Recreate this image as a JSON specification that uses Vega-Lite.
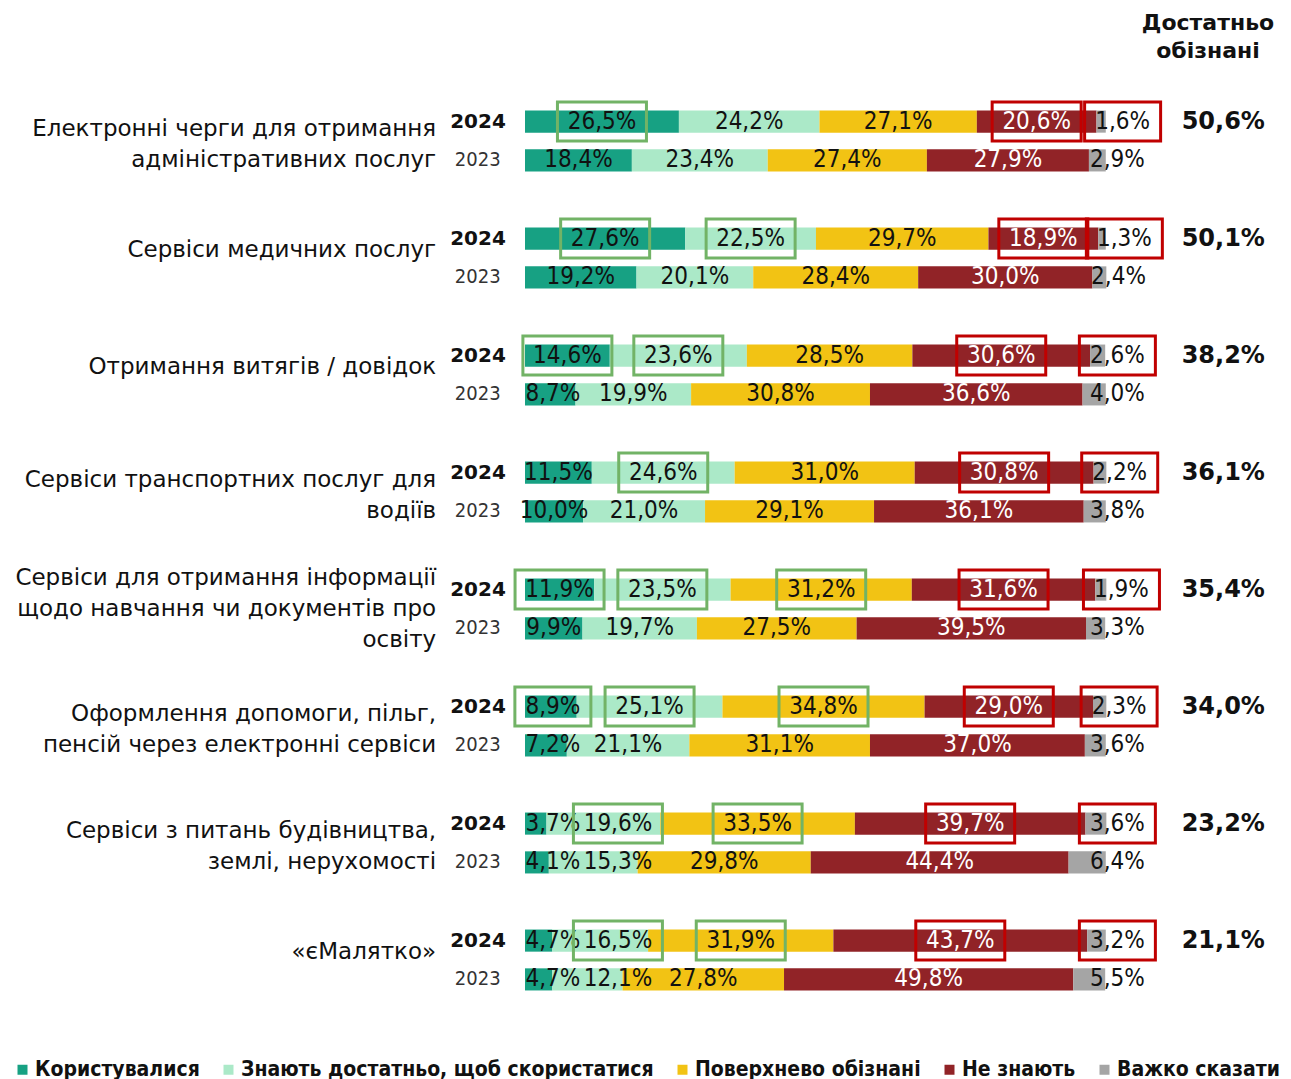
{
  "$schema": "https://vega.github.io/schema/vega-lite/v6.json",
  "background": "white",
  "padding": {"left": 12, "top": 12, "right": 11, "bottom": 5},
  "bounds": "flush",
  "title": {"text": ["Достатньо", "обізнані"], "anchor": "start", "frame": "group", "align": "center", "dx": 683, "fontSize": 22, "fontWeight": "bold", "font": "DejaVu Sans", "lineHeight": 28, "offset": 33, "color": "#111"},
  "data": {"values": [
    {"cat": "Електронні черги для отримання|адміністративних послуг", "year": "2024", "resp": "Користувалися", "value": 26.5, "box": "g", "aware": "50,6%"},
    {"cat": "Електронні черги для отримання|адміністративних послуг", "year": "2024", "resp": "Знають достатньо, щоб скористатися", "value": 24.2},
    {"cat": "Електронні черги для отримання|адміністративних послуг", "year": "2024", "resp": "Поверхнево обізнані", "value": 27.1},
    {"cat": "Електронні черги для отримання|адміністративних послуг", "year": "2024", "resp": "Не знають", "value": 20.6, "box": "r"},
    {"cat": "Електронні черги для отримання|адміністративних послуг", "year": "2024", "resp": "Важко сказати", "value": 1.6, "box": "r"},
    {"cat": "Електронні черги для отримання|адміністративних послуг", "year": "2023", "resp": "Користувалися", "value": 18.4},
    {"cat": "Електронні черги для отримання|адміністративних послуг", "year": "2023", "resp": "Знають достатньо, щоб скористатися", "value": 23.4},
    {"cat": "Електронні черги для отримання|адміністративних послуг", "year": "2023", "resp": "Поверхнево обізнані", "value": 27.4},
    {"cat": "Електронні черги для отримання|адміністративних послуг", "year": "2023", "resp": "Не знають", "value": 27.9},
    {"cat": "Електронні черги для отримання|адміністративних послуг", "year": "2023", "resp": "Важко сказати", "value": 2.9},

    {"cat": "Сервіси медичних послуг", "year": "2024", "resp": "Користувалися", "value": 27.6, "box": "g", "aware": "50,1%"},
    {"cat": "Сервіси медичних послуг", "year": "2024", "resp": "Знають достатньо, щоб скористатися", "value": 22.5, "box": "g"},
    {"cat": "Сервіси медичних послуг", "year": "2024", "resp": "Поверхнево обізнані", "value": 29.7},
    {"cat": "Сервіси медичних послуг", "year": "2024", "resp": "Не знають", "value": 18.9, "box": "r"},
    {"cat": "Сервіси медичних послуг", "year": "2024", "resp": "Важко сказати", "value": 1.3, "box": "r"},
    {"cat": "Сервіси медичних послуг", "year": "2023", "resp": "Користувалися", "value": 19.2},
    {"cat": "Сервіси медичних послуг", "year": "2023", "resp": "Знають достатньо, щоб скористатися", "value": 20.1},
    {"cat": "Сервіси медичних послуг", "year": "2023", "resp": "Поверхнево обізнані", "value": 28.4},
    {"cat": "Сервіси медичних послуг", "year": "2023", "resp": "Не знають", "value": 30.0},
    {"cat": "Сервіси медичних послуг", "year": "2023", "resp": "Важко сказати", "value": 2.4},

    {"cat": "Отримання витягів / довідок", "year": "2024", "resp": "Користувалися", "value": 14.6, "box": "g", "aware": "38,2%"},
    {"cat": "Отримання витягів / довідок", "year": "2024", "resp": "Знають достатньо, щоб скористатися", "value": 23.6, "box": "g"},
    {"cat": "Отримання витягів / довідок", "year": "2024", "resp": "Поверхнево обізнані", "value": 28.5},
    {"cat": "Отримання витягів / довідок", "year": "2024", "resp": "Не знають", "value": 30.6, "box": "r"},
    {"cat": "Отримання витягів / довідок", "year": "2024", "resp": "Важко сказати", "value": 2.6, "box": "r"},
    {"cat": "Отримання витягів / довідок", "year": "2023", "resp": "Користувалися", "value": 8.7},
    {"cat": "Отримання витягів / довідок", "year": "2023", "resp": "Знають достатньо, щоб скористатися", "value": 19.9},
    {"cat": "Отримання витягів / довідок", "year": "2023", "resp": "Поверхнево обізнані", "value": 30.8},
    {"cat": "Отримання витягів / довідок", "year": "2023", "resp": "Не знають", "value": 36.6},
    {"cat": "Отримання витягів / довідок", "year": "2023", "resp": "Важко сказати", "value": 4.0},

    {"cat": "Сервіси транспортних послуг для|водіїв", "year": "2024", "resp": "Користувалися", "value": 11.5, "aware": "36,1%"},
    {"cat": "Сервіси транспортних послуг для|водіїв", "year": "2024", "resp": "Знають достатньо, щоб скористатися", "value": 24.6, "box": "g"},
    {"cat": "Сервіси транспортних послуг для|водіїв", "year": "2024", "resp": "Поверхнево обізнані", "value": 31.0},
    {"cat": "Сервіси транспортних послуг для|водіїв", "year": "2024", "resp": "Не знають", "value": 30.8, "box": "r"},
    {"cat": "Сервіси транспортних послуг для|водіїв", "year": "2024", "resp": "Важко сказати", "value": 2.2, "box": "r"},
    {"cat": "Сервіси транспортних послуг для|водіїв", "year": "2023", "resp": "Користувалися", "value": 10.0},
    {"cat": "Сервіси транспортних послуг для|водіїв", "year": "2023", "resp": "Знають достатньо, щоб скористатися", "value": 21.0},
    {"cat": "Сервіси транспортних послуг для|водіїв", "year": "2023", "resp": "Поверхнево обізнані", "value": 29.1},
    {"cat": "Сервіси транспортних послуг для|водіїв", "year": "2023", "resp": "Не знають", "value": 36.1},
    {"cat": "Сервіси транспортних послуг для|водіїв", "year": "2023", "resp": "Важко сказати", "value": 3.8},

    {"cat": "Сервіси для отримання інформації|щодо навчання чи документів про|освіту", "year": "2024", "resp": "Користувалися", "value": 11.9, "box": "g", "aware": "35,4%"},
    {"cat": "Сервіси для отримання інформації|щодо навчання чи документів про|освіту", "year": "2024", "resp": "Знають достатньо, щоб скористатися", "value": 23.5, "box": "g"},
    {"cat": "Сервіси для отримання інформації|щодо навчання чи документів про|освіту", "year": "2024", "resp": "Поверхнево обізнані", "value": 31.2, "box": "g"},
    {"cat": "Сервіси для отримання інформації|щодо навчання чи документів про|освіту", "year": "2024", "resp": "Не знають", "value": 31.6, "box": "r"},
    {"cat": "Сервіси для отримання інформації|щодо навчання чи документів про|освіту", "year": "2024", "resp": "Важко сказати", "value": 1.9, "box": "r"},
    {"cat": "Сервіси для отримання інформації|щодо навчання чи документів про|освіту", "year": "2023", "resp": "Користувалися", "value": 9.9},
    {"cat": "Сервіси для отримання інформації|щодо навчання чи документів про|освіту", "year": "2023", "resp": "Знають достатньо, щоб скористатися", "value": 19.7},
    {"cat": "Сервіси для отримання інформації|щодо навчання чи документів про|освіту", "year": "2023", "resp": "Поверхнево обізнані", "value": 27.5},
    {"cat": "Сервіси для отримання інформації|щодо навчання чи документів про|освіту", "year": "2023", "resp": "Не знають", "value": 39.5},
    {"cat": "Сервіси для отримання інформації|щодо навчання чи документів про|освіту", "year": "2023", "resp": "Важко сказати", "value": 3.3},

    {"cat": "Оформлення допомоги, пільг,|пенсій через електронні сервіси", "year": "2024", "resp": "Користувалися", "value": 8.9, "box": "g", "aware": "34,0%"},
    {"cat": "Оформлення допомоги, пільг,|пенсій через електронні сервіси", "year": "2024", "resp": "Знають достатньо, щоб скористатися", "value": 25.1, "box": "g"},
    {"cat": "Оформлення допомоги, пільг,|пенсій через електронні сервіси", "year": "2024", "resp": "Поверхнево обізнані", "value": 34.8, "box": "g"},
    {"cat": "Оформлення допомоги, пільг,|пенсій через електронні сервіси", "year": "2024", "resp": "Не знають", "value": 29.0, "box": "r"},
    {"cat": "Оформлення допомоги, пільг,|пенсій через електронні сервіси", "year": "2024", "resp": "Важко сказати", "value": 2.3, "box": "r"},
    {"cat": "Оформлення допомоги, пільг,|пенсій через електронні сервіси", "year": "2023", "resp": "Користувалися", "value": 7.2},
    {"cat": "Оформлення допомоги, пільг,|пенсій через електронні сервіси", "year": "2023", "resp": "Знають достатньо, щоб скористатися", "value": 21.1},
    {"cat": "Оформлення допомоги, пільг,|пенсій через електронні сервіси", "year": "2023", "resp": "Поверхнево обізнані", "value": 31.1},
    {"cat": "Оформлення допомоги, пільг,|пенсій через електронні сервіси", "year": "2023", "resp": "Не знають", "value": 37.0},
    {"cat": "Оформлення допомоги, пільг,|пенсій через електронні сервіси", "year": "2023", "resp": "Важко сказати", "value": 3.6},

    {"cat": "Сервіси з питань будівництва,|землі, нерухомості", "year": "2024", "resp": "Користувалися", "value": 3.7, "aware": "23,2%"},
    {"cat": "Сервіси з питань будівництва,|землі, нерухомості", "year": "2024", "resp": "Знають достатньо, щоб скористатися", "value": 19.6, "box": "g"},
    {"cat": "Сервіси з питань будівництва,|землі, нерухомості", "year": "2024", "resp": "Поверхнево обізнані", "value": 33.5, "box": "g"},
    {"cat": "Сервіси з питань будівництва,|землі, нерухомості", "year": "2024", "resp": "Не знають", "value": 39.7, "box": "r"},
    {"cat": "Сервіси з питань будівництва,|землі, нерухомості", "year": "2024", "resp": "Важко сказати", "value": 3.6, "box": "r"},
    {"cat": "Сервіси з питань будівництва,|землі, нерухомості", "year": "2023", "resp": "Користувалися", "value": 4.1},
    {"cat": "Сервіси з питань будівництва,|землі, нерухомості", "year": "2023", "resp": "Знають достатньо, щоб скористатися", "value": 15.3},
    {"cat": "Сервіси з питань будівництва,|землі, нерухомості", "year": "2023", "resp": "Поверхнево обізнані", "value": 29.8},
    {"cat": "Сервіси з питань будівництва,|землі, нерухомості", "year": "2023", "resp": "Не знають", "value": 44.4},
    {"cat": "Сервіси з питань будівництва,|землі, нерухомості", "year": "2023", "resp": "Важко сказати", "value": 6.4},

    {"cat": "«єМалятко»", "year": "2024", "resp": "Користувалися", "value": 4.7, "aware": "21,1%"},
    {"cat": "«єМалятко»", "year": "2024", "resp": "Знають достатньо, щоб скористатися", "value": 16.5, "box": "g"},
    {"cat": "«єМалятко»", "year": "2024", "resp": "Поверхнево обізнані", "value": 31.9, "box": "g"},
    {"cat": "«єМалятко»", "year": "2024", "resp": "Не знають", "value": 43.7, "box": "r"},
    {"cat": "«єМалятко»", "year": "2024", "resp": "Важко сказати", "value": 3.2, "box": "r"},
    {"cat": "«єМалятко»", "year": "2023", "resp": "Користувалися", "value": 4.7},
    {"cat": "«єМалятко»", "year": "2023", "resp": "Знають достатньо, щоб скористатися", "value": 12.1},
    {"cat": "«єМалятко»", "year": "2023", "resp": "Поверхнево обізнані", "value": 27.8},
    {"cat": "«єМалятко»", "year": "2023", "resp": "Не знають", "value": 49.8},
    {"cat": "«єМалятко»", "year": "2023", "resp": "Важко сказати", "value": 5.5}
  ]},
  "transform": [
    {"calculate": "indexof(['Користувалися','Знають достатньо, щоб скористатися','Поверхнево обізнані','Не знають','Важко сказати'], datum.resp)", "as": "ord"},
    {"stack": "value", "groupby": ["cat", "year"], "sort": [{"field": "ord", "order": "ascending"}], "as": ["x0", "x1"]},
    {"calculate": "(datum.x0 + datum.x1) / 2", "as": "mid"},
    {"calculate": "datum.ord == 4 ? max(datum.x0 + 4.5, 102) : datum.ord == 0 ? max(datum.mid, 4.8) : (datum.ord == 1 && datum.x0 < 8) ? max(datum.mid, 16) : datum.mid", "as": "lx"},
    {"calculate": "replace(format(datum.value, '.1f'), '.', ',') + '%'", "as": "lbl"},
    {"calculate": "split(datum.cat, '|')", "as": "catLines"},
    {"calculate": "length(datum.catLines)", "as": "nLines"}
  ],
  "spacing": 39,
  "facet": {
    "row": {
      "field": "cat", "type": "nominal", "title": null,
      "sort": ["Електронні черги для отримання|адміністративних послуг", "Сервіси медичних послуг", "Отримання витягів / довідок", "Сервіси транспортних послуг для|водіїв", "Сервіси для отримання інформації|щодо навчання чи документів про|освіту", "Оформлення допомоги, пільг,|пенсій через електронні сервіси", "Сервіси з питань будівництва,|землі, нерухомості", "«єМалятко»"],
      "header": {"labels": false}
    }
  },
  "spec": {
    "width": 755,
    "height": 78,
    "layer": [
      {
        "mark": {"type": "bar"},
        "encoding": {
          "x": {"field": "x0", "type": "quantitative", "scale": {"domain": [0, 130], "nice": false, "zero": true}, "axis": null},
          "x2": {"field": "x1"},
          "y": {"field": "year", "type": "nominal", "sort": "descending", "scale": {"paddingInner": 0.43, "paddingOuter": 0.22}, "axis": null},
          "color": {"field": "resp", "type": "nominal",
                    "scale": {"domain": ["Користувалися", "Знають достатньо, щоб скористатися", "Поверхнево обізнані", "Не знають", "Важко сказати"], "range": ["#17a183", "#abe9c8", "#f2c314", "#912327", "#a5a5a5"]},
                    "legend": {"orient": "none", "legendX": -513, "legendY": 957, "padding": 0, "direction": "horizontal", "title": null, "symbolType": "square", "symbolSize": 100, "symbolStrokeWidth": 0, "labelFontSize": 21, "labelFontWeight": "bold", "labelFont": "DejaVu Sans Condensed, DejaVu Sans", "labelColor": "#111", "labelLimit": 600, "labelOffset": 2, "columnPadding": 18}}
        }
      },
      {
        "mark": {"type": "text", "fontSize": 24, "font": "DejaVu Sans Condensed, DejaVu Sans", "align": "center", "baseline": "middle"},
        "encoding": {
          "x": {"field": "lx", "type": "quantitative"},
          "y": {"field": "year", "type": "nominal", "sort": "descending"},
          "text": {"field": "lbl"},
          "color": {"condition": {"test": "datum.ord == 3", "value": "white"}, "value": "#111"}
        }
      },
      {
        "transform": [{"filter": "datum.box == 'g' || datum.box == 'r'"}, {"filter": "datum.value >= 10"}],
        "mark": {"type": "point", "filled": false, "shape": "M-1,-0.438H1V0.438H-1Z", "size": 7921, "strokeWidth": 3, "opacity": 1},
        "encoding": {
          "x": {"field": "lx", "type": "quantitative"},
          "y": {"field": "year", "type": "nominal", "sort": "descending"},
          "color": {"condition": {"test": "datum.box == 'g'", "value": "#72b366"}, "value": "#c00000"}
        }
      },
      {
        "transform": [{"filter": "datum.box == 'g' || datum.box == 'r'"}, {"filter": "datum.value < 10"}],
        "mark": {"type": "point", "filled": false, "shape": "M-1,-0.513H1V0.513H-1Z", "size": 5776, "strokeWidth": 3, "opacity": 1},
        "encoding": {
          "x": {"field": "lx", "type": "quantitative"},
          "y": {"field": "year", "type": "nominal", "sort": "descending"},
          "color": {"condition": {"test": "datum.box == 'g'", "value": "#72b366"}, "value": "#c00000"}
        }
      },
      {
        "transform": [{"filter": "datum.ord == 0 && datum.year == '2024'"}],
        "mark": {"type": "text", "fontSize": 20, "fontWeight": "bold", "font": "DejaVu Sans", "align": "right", "baseline": "middle", "color": "#111"},
        "encoding": {
          "x": {"datum": -3.3},
          "y": {"field": "year", "type": "nominal", "sort": "descending"},
          "text": {"field": "year"}
        }
      },
      {
        "transform": [{"filter": "datum.ord == 0 && datum.year == '2023'"}],
        "mark": {"type": "text", "fontSize": 20, "font": "DejaVu Sans Condensed, DejaVu Sans", "align": "right", "baseline": "middle", "color": "#333"},
        "encoding": {
          "x": {"datum": -4.2},
          "y": {"field": "year", "type": "nominal", "sort": "descending"},
          "text": {"field": "year"}
        }
      },
      {
        "transform": [{"filter": "isValid(datum.aware)"}],
        "mark": {"type": "text", "fontSize": 24, "fontWeight": "bold", "font": "DejaVu Sans", "align": "right", "baseline": "middle", "color": "#111"},
        "encoding": {
          "x": {"datum": 127.4},
          "y": {"field": "year", "type": "nominal", "sort": "descending"},
          "text": {"field": "aware"}
        }
      },
      {
        "transform": [{"filter": "isValid(datum.aware) && datum.nLines == 1"}],
        "mark": {"type": "text", "fontSize": 23, "font": "DejaVu Sans", "align": "right", "baseline": "middle", "lineHeight": 31, "color": "#111", "dy": -8},
        "encoding": {
          "x": {"datum": -15.3},
          "text": {"field": "catLines"}
        }
      },
      {
        "transform": [{"filter": "isValid(datum.aware) && datum.nLines == 2"}],
        "mark": {"type": "text", "fontSize": 23, "font": "DejaVu Sans", "align": "right", "baseline": "middle", "lineHeight": 31, "color": "#111", "dy": -12},
        "encoding": {
          "x": {"datum": -15.3},
          "text": {"field": "catLines"}
        }
      },
      {
        "transform": [{"filter": "isValid(datum.aware) && datum.nLines == 3"}],
        "mark": {"type": "text", "fontSize": 23, "font": "DejaVu Sans", "align": "right", "baseline": "middle", "lineHeight": 31, "color": "#111", "dy": -31},
        "encoding": {
          "x": {"datum": -15.3},
          "text": {"field": "catLines"}
        }
      }
    ]
  },
  "config": {"view": {"stroke": null}}
}
